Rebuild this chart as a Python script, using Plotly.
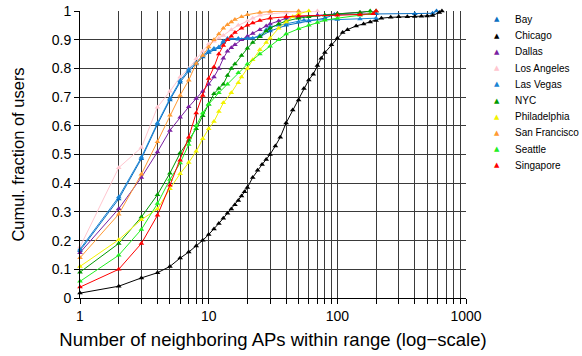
import plotly.graph_objects as go

series_names = ["Bay", "Chicago", "Dallas", "Los Angeles", "Las Vegas", "NYC",
                "Philadelphia", "San Francisco", "Seattle", "Singapore"]
series_colors = ["#0a6fc2", "#000000", "#7a1fa2", "#ffc6cf", "#1a84d4", "#009a00",
                 "#f2f200", "#ff9a33", "#22ee22", "#ff0000"]

bay_x = [1, 2, 3, 4, 5, 6, 7, 8, 9, 10, 11, 12, 13, 14, 17, 20, 25, 30, 40, 60, 80, 95, 200, 400, 550, 590]
bay_y = [0.165, 0.345, 0.485, 0.605, 0.69, 0.752, 0.79, 0.815, 0.84, 0.855, 0.865, 0.872, 0.89, 0.9, 0.902, 0.905, 0.91, 0.93, 0.95, 0.965, 0.975, 0.988, 0.99, 0.99, 0.992, 1.0]

chicago_x = [1, 2, 3, 4, 5, 6, 7, 8, 9, 10, 11, 12, 13, 14, 15, 16, 17, 18, 19, 20, 22, 24, 26, 28,
             30, 33, 36, 40, 45, 50, 55, 60, 65, 70, 75, 80, 90, 100, 110, 120, 140, 160, 180,
             200, 220, 260, 300, 350, 400, 450, 500, 550, 620, 650]
chicago_y = [0.017, 0.041, 0.07, 0.088, 0.11, 0.139, 0.16, 0.181, 0.201, 0.221, 0.24, 0.26, 0.278,
             0.295, 0.31, 0.325, 0.34, 0.355, 0.37, 0.385, 0.42, 0.445, 0.465, 0.483, 0.5, 0.53,
             0.56, 0.61, 0.655, 0.69, 0.73, 0.76, 0.78, 0.81, 0.835, 0.855, 0.882, 0.905, 0.925,
             0.935, 0.948, 0.955, 0.962, 0.967, 0.975, 0.978, 0.98, 0.98, 0.981, 0.982, 0.983,
             0.984, 0.995, 1.0]

dallas_x = [1, 2, 3, 4, 5, 6, 7, 8, 9, 10, 11, 12, 13, 14, 15, 16, 18, 20, 22, 25, 28, 30, 35, 40, 50, 70, 100, 150, 200]
dallas_y = [0.158, 0.311, 0.42, 0.509, 0.584, 0.63, 0.666, 0.695, 0.72, 0.745, 0.77, 0.8, 0.835, 0.86,
            0.872, 0.882, 0.9, 0.912, 0.922, 0.935, 0.948, 0.955, 0.965, 0.975, 0.98, 0.985, 0.99, 0.995, 1.0]

la_x = [1, 2, 3, 4, 5, 6, 7, 8, 9, 10, 11, 12, 13, 15, 17, 20, 22, 25, 30, 40, 50, 70]
la_y = [0.178, 0.454, 0.524, 0.665, 0.72, 0.77, 0.8, 0.834, 0.86, 0.885, 0.895, 0.905, 0.915, 0.935,
        0.95, 0.965, 0.975, 0.985, 0.99, 0.995, 0.997, 1.0]

lv_x = [1, 2, 3, 4, 5, 6, 7, 8, 9, 10, 11, 12, 13, 14, 17, 20, 22, 25, 28, 30, 35, 40, 50, 55, 100, 150, 200]
lv_y = [0.17, 0.352, 0.49, 0.61, 0.695, 0.757, 0.797, 0.82, 0.845, 0.86, 0.869, 0.875, 0.895, 0.904,
        0.904, 0.904, 0.905, 0.915, 0.935, 0.945, 0.95, 0.955, 0.962, 0.968, 0.97, 0.972, 0.975]

nyc_x = [1, 2, 3, 4, 5, 6, 7, 8, 9, 10, 11, 12, 13, 14, 15, 16, 18, 20, 22, 25, 28, 30, 35, 40, 50, 60, 80, 100, 150, 180]
nyc_y = [0.09, 0.19, 0.282, 0.36, 0.435, 0.505, 0.55, 0.59, 0.635, 0.675, 0.712, 0.73, 0.745, 0.775,
         0.8, 0.815, 0.845, 0.87, 0.89, 0.91, 0.93, 0.94, 0.955, 0.965, 0.975, 0.98, 0.985, 0.99, 0.995, 1.0]

phil_x = [1, 2, 3, 4, 5, 6, 7, 8, 9, 10, 11, 12, 13, 15, 17, 18, 20, 22, 25, 28, 30, 35, 40, 45, 50, 60]
phil_y = [0.11, 0.203, 0.273, 0.31, 0.381, 0.433, 0.472, 0.511, 0.555, 0.59, 0.615, 0.65, 0.68, 0.715,
          0.75, 0.77, 0.8, 0.83, 0.865, 0.89, 0.905, 0.94, 0.962, 0.98, 0.99, 1.0]

sf_x = [1, 2, 3, 4, 5, 6, 7, 8, 9, 10, 11, 12, 13, 14, 15, 16, 18, 20, 25, 30, 50]
sf_y = [0.14, 0.292, 0.431, 0.544, 0.637, 0.706, 0.759, 0.817, 0.845, 0.875, 0.9, 0.92, 0.94, 0.952,
        0.962, 0.97, 0.98, 0.987, 0.995, 0.998, 1.0]

sea_x = [1, 2, 3, 4, 5, 6, 7, 8, 9, 10, 12, 14, 17, 20, 25, 30, 35, 40, 50, 60, 70, 80, 100, 150, 180, 200]
sea_y = [0.058, 0.149, 0.239, 0.329, 0.413, 0.47, 0.535, 0.6, 0.645, 0.675, 0.715, 0.745, 0.785, 0.815,
         0.85, 0.877, 0.9, 0.92, 0.938, 0.95, 0.96, 0.968, 0.975, 0.985, 0.99, 1.0]

sing_x = [1, 2, 3, 4, 5, 6, 7, 8, 9, 10, 11, 12, 13, 14, 15, 16, 18, 20, 22, 25, 30, 40, 50, 100, 150, 190, 200]
sing_y = [0.038, 0.1, 0.19, 0.288, 0.393, 0.48, 0.56, 0.645, 0.706, 0.765, 0.805, 0.85, 0.88, 0.9, 0.912,
          0.925, 0.94, 0.95, 0.958, 0.967, 0.975, 0.98, 0.983, 0.985, 0.987, 0.99, 1.0]

x_tick_vals = [1, 2, 3, 4, 5, 6, 7, 8, 9, 10, 20, 30, 40, 50, 60, 70, 80, 90,
               100, 200, 300, 400, 500, 600, 700, 800, 900, 1000]
x_tick_labels = ["1", "", "", "", "", "", "", "", "", "10", "", "", "", "", "", "", "", "",
                 "100", "", "", "", "", "", "", "", "", "1000"]
y_tick_vals = [0, 0.1, 0.2, 0.3, 0.4, 0.5, 0.6, 0.7, 0.8, 0.9, 1.0]
y_tick_labels = ["0", "0.1", "0.2", "0.3", "0.4", "0.5", "0.6", "0.7", "0.8", "0.9", "1"]

all_x = [bay_x, chicago_x, dallas_x, la_x, lv_x, nyc_x, phil_x, sf_x, sea_x, sing_x]
all_y = [bay_y, chicago_y, dallas_y, la_y, lv_y, nyc_y, phil_y, sf_y, sea_y, sing_y]

FONT = "Arial, Liberation Sans, sans-serif"
W, H = 582, 356
ML, MR, MT, MB = 80, 116, 11, 58
PW, PH = W - ML - MR, H - MT - MB

fig = go.Figure()
for name, color, xs, ys in zip(series_names, series_colors, all_x, all_y):
    fig.add_trace(go.Scatter(
        x=xs, y=ys, mode="lines+markers", name=name, showlegend=False,
        line=dict(color=color, width=1),
        marker=dict(symbol="triangle-up", size=5, color=color, line=dict(width=0)),
        cliponaxis=False,
    ))

# manual legend (marker glyph + label), positioned in paper coordinates
legend_marker_px, legend_text_px, legend_top_px, legend_step_px = 497, 513, 19.5, 16.2
annotations = []
for i, (name, color) in enumerate(zip(series_names, series_colors)):
    py = legend_top_px + i * legend_step_px
    yp = (H - MB - py) / PH
    annotations.append(dict(xref="paper", yref="paper", x=(legend_marker_px - ML) / PW, y=yp,
                            text="\u25b2", showarrow=False, xanchor="center", yanchor="middle",
                            font=dict(size=7, color=color, family="DejaVu Sans")))
    annotations.append(dict(xref="paper", yref="paper", x=(legend_text_px - ML) / PW, y=yp,
                            text=name, showarrow=False, xanchor="left", yanchor="middle",
                            font=dict(size=10, color="black", family=FONT)))

fig.update_layout(
    width=W, height=H,
    margin=dict(l=ML, r=MR, t=MT, b=MB, autoexpand=False),
    paper_bgcolor="white", plot_bgcolor="white",
    font=dict(family=FONT, color="black"),
    showlegend=False,
    annotations=annotations,
)
fig.update_xaxes(
    type="log", range=[0, 3], automargin=False,
    tickvals=x_tick_vals, ticktext=x_tick_labels,
    showgrid=True, gridcolor="#3a3a3a", gridwidth=1,
    ticks="outside", ticklen=5, tickcolor="black", tickwidth=1,
    showline=True, linecolor="black", linewidth=1, zeroline=False,
    tickfont=dict(size=14, family=FONT),
    title=dict(text="Number of neighboring APs within range (log\u2212scale)",
               font=dict(size=18.5, family=FONT), standoff=10),
)
fig.update_yaxes(
    range=[0, 1], automargin=False,
    tickvals=y_tick_vals, ticktext=y_tick_labels,
    showgrid=True, gridcolor="#3a3a3a", gridwidth=1,
    ticks="outside", ticklen=5, tickcolor="black", tickwidth=1,
    showline=True, linecolor="black", linewidth=1, zeroline=False,
    tickfont=dict(size=14, family=FONT),
    title=dict(text="Cumul. fraction of users", font=dict(size=16.5, family=FONT), standoff=22),
)

fig.write_html("out.html", config={"displayModeBar": False},
               post_script="document.body.style.margin='0';")
